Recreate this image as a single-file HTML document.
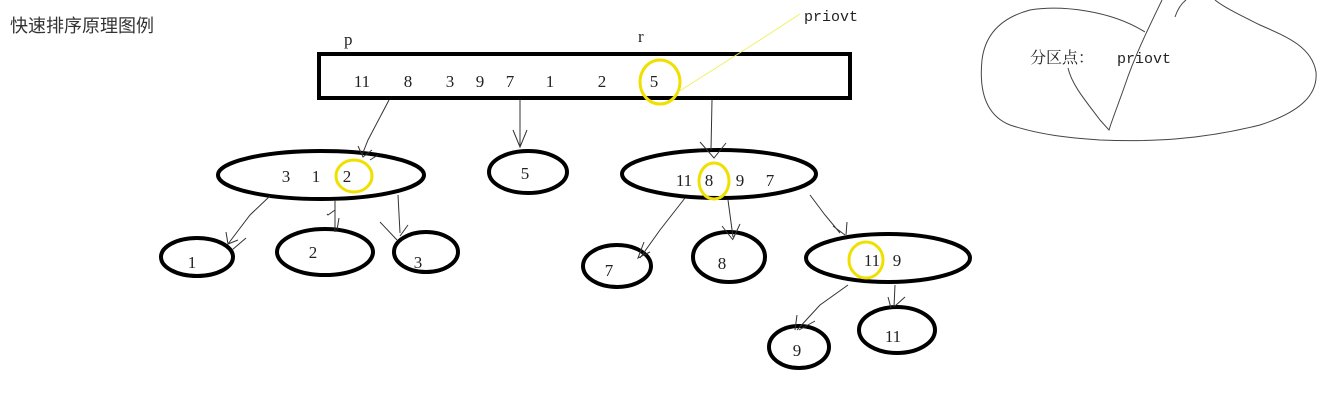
<!DOCTYPE html>
<html><head><meta charset="utf-8"><style>
html,body{margin:0;padding:0;background:#fff;width:1334px;height:401px;overflow:hidden}
svg text{font-family:"Liberation Serif","Noto Serif CJK SC",serif;font-size:17px;fill:#222}
</style></head><body>
<svg width="1334" height="401" viewBox="0 0 1334 401" xmlns="http://www.w3.org/2000/svg">
<text x="10" y="32" style="font-family:'Liberation Sans','Noto Sans CJK SC',sans-serif;font-size:18px;fill:#333">快速排序原理图例</text>
<text x="344" y="45">p</text>
<text x="638" y="42">r</text>
<text x="804" y="21" style="font-family:'Liberation Mono',monospace;font-size:15px">priovt</text>
<rect x="319" y="54" width="531" height="44" fill="none" stroke="#000" stroke-width="4"/>
<g text-anchor="middle">
<text x="362" y="87">11</text><text x="408" y="87">8</text><text x="450" y="87">3</text><text x="480" y="87">9</text><text x="510" y="87">7</text><text x="550" y="87">1</text><text x="602" y="87">2</text><text x="654" y="87">5</text>
</g>
<ellipse cx="660" cy="82" rx="20" ry="22" fill="none" stroke="#f0e000" stroke-width="3"/>
<path d="M678 92 L760 40 L800 14" fill="none" stroke="#f0f060" stroke-width="1"/>
<g fill="none" stroke="#000" stroke-width="4">
<ellipse cx="321" cy="175" rx="103" ry="24"/>
<ellipse cx="528" cy="172" rx="39" ry="21"/>
<ellipse cx="719" cy="174" rx="97" ry="24"/>
<ellipse cx="197" cy="257" rx="36" ry="19"/>
<ellipse cx="325" cy="252" rx="48" ry="23"/>
<ellipse cx="426" cy="252" rx="32" ry="20"/>
<ellipse cx="617" cy="266" rx="34" ry="21"/>
<ellipse cx="729" cy="257" rx="36" ry="25"/>
<ellipse cx="888" cy="258" rx="82" ry="24"/>
<ellipse cx="799" cy="347" rx="30" ry="21"/>
<ellipse cx="897" cy="330" rx="38" ry="23"/>
</g>
<g fill="none" stroke="#f0e000" stroke-width="3">
<ellipse cx="354" cy="176" rx="18" ry="16"/>
<ellipse cx="714" cy="181" rx="15" ry="18"/>
<ellipse cx="866" cy="260" rx="17" ry="18"/>
</g>
<g text-anchor="middle">
<text x="286" y="182">3</text><text x="316" y="182">1</text><text x="347" y="182">2</text>
<text x="525" y="179">5</text>
<text x="684" y="186">11</text><text x="709" y="186">8</text><text x="740" y="186">9</text><text x="770" y="186">7</text>
<text x="192" y="268">1</text><text x="313" y="258">2</text><text x="418" y="268">3</text>
<text x="609" y="276">7</text><text x="722" y="269">8</text><text x="872" y="266">11</text><text x="897" y="266">9</text>
<text x="797" y="356">9</text><text x="893" y="342">11</text>
</g>
<g fill="none" stroke="#333" stroke-width="1">
<path d="M389 100 L368 140 L362 155 M358 146 L363 157 L372 150 M370 160 L378 155"/>
<path d="M520 100 L520 147 M513 130 L520 147 L527 130"/>
<path d="M712 100 L711 150 M700 142 L714 158 L726 143"/>
<path d="M270 196 L250 215 L228 244 M226 232 L228 244 L238 240 M232 250 L246 238"/>
<path d="M335 200 L335 232 M327 214 L328 215 L335 210 M339 218 L337 230"/>
<path d="M398 195 L400 233 M380 222 L397 240 M408 225 L400 236"/>
<path d="M685 198 L660 230 L640 258 M644 242 L638 258 L650 252"/>
<path d="M728 200 L733 237 M722 226 L733 240 M740 224 L733 239"/>
<path d="M810 195 L825 215 L840 233 M833 226 L845 235 M847 222 L846 235"/>
<path d="M848 285 L820 305 L797 330 M797 315 L795 330 M799 330 L815 321"/>
<path d="M895 285 L894 307 M888 297 L891 308 M905 297 L895 306"/>
</g>
<g fill="none" stroke="#444" stroke-width="1">
<path d="M1145 32 C1110 10 1060 5 1030 10 C1000 18 985 35 982 60 C979 90 985 115 1010 125 C1040 135 1070 138 1100 140 C1150 142 1200 140 1260 125 C1300 112 1318 95 1316 72 C1312 48 1290 38 1260 25 C1240 15 1225 8 1215 0"/>
<path d="M1162 0 C1150 25 1135 55 1125 85 C1118 105 1112 120 1109 130 L1100 120 C1085 100 1072 85 1068 68"/>
<path d="M1175 17 C1178 8 1182 3 1186 0"/>
</g>
<text x="1030" y="63" style="font-family:'Liberation Serif','Noto Serif CJK SC',serif;font-size:16px">分区点：</text>
<text x="1117" y="63" style="font-family:'Liberation Mono',monospace;font-size:15px">priovt</text>
</svg>
</body></html>
